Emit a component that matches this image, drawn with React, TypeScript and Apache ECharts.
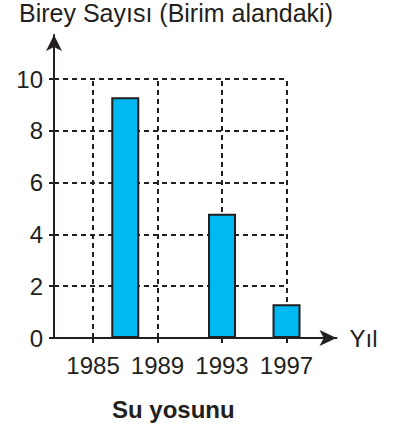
import React, { useEffect, useRef } from "react";
import * as echarts from "echarts";

const years = [1987, 1993, 1997];
const counts = [9.3, 4.8, 1.3];
const xTicks = [1985, 1989, 1993, 1997];
const yTicks = [0, 2, 4, 6, 8, 10];
const gridYs = [2, 4, 6, 8, 10];
const yTitle = "Birey Sayısı (Birim alandaki)";
const xTitle = "Yıl";
const caption = "Su yosunu";

const X_MIN = 1982.58;
const X_MAX = 2000.1;
const Y_MAX = 11.7;
const INK = "#231f20";
const FONT = "'Liberation Sans', Arial, sans-serif";

export default function App() {
  const ref = useRef<HTMLDivElement>(null);
  useEffect(() => {
    if (!ref.current) return;
    const chart = echarts.init(ref.current, null, { renderer: "svg" });
    const dash = { type: [5, 4] as any, width: 2, color: INK };
    const lines: any[] = [];
    gridYs.forEach((y) => {
      lines.push([{ coord: [X_MIN, y] }, { coord: [xTicks[xTicks.length - 1], y] }]);
    });
    xTicks.forEach((x) => {
      lines.push([{ coord: [x, 0] }, { coord: [x, gridYs[gridYs.length - 1]] }]);
    });
    chart.setOption({
      animation: false,
      grid: { left: 54, right: 406 - 336.5, top: 35, bottom: 430 - 338 },
      xAxis: {
        type: "value",
        min: X_MIN,
        max: X_MAX,
        name: xTitle,
        nameLocation: "end",
        nameGap: 13,
        nameTextStyle: { fontFamily: FONT, fontSize: 24, color: INK, verticalAlign: "middle" },
        splitLine: { show: false },
        axisLine: {
          lineStyle: { color: INK, width: 2 },
          symbol: ["none", "arrow"],
          symbolSize: [12, 17],
        },
        axisTick: { customValues: xTicks, length: 5, lineStyle: { color: INK, width: 2 } },
        axisLabel: {
          customValues: xTicks,
          fontFamily: FONT,
          fontSize: 24,
          color: INK,
          margin: 15,
          formatter: (v: number) => String(v),
        },
      },
      yAxis: {
        type: "value",
        min: 0,
        max: Y_MAX,
        splitLine: { show: false },
        axisLine: {
          show: true,
          lineStyle: { color: INK, width: 2 },
          symbol: ["none", "arrow"],
          symbolSize: [12, 16],
        },
        axisTick: { show: true, customValues: yTicks, length: 5, lineStyle: { color: INK, width: 2 } },
        axisLabel: {
          customValues: yTicks,
          fontFamily: FONT,
          fontSize: 24,
          color: INK,
          margin: 11,
        },
      },
      graphic: [
        {
          type: "text",
          left: 19,
          top: 0,
          style: { text: yTitle, fontFamily: FONT, fontSize: 25, fill: INK },
        },
        {
          type: "text",
          left: 112,
          top: 397,
          style: { text: caption, fontFamily: FONT, fontSize: 24, fontWeight: "bold", fill: INK },
        },
      ],
      series: [
        {
          type: "line",
          data: [],
          silent: true,
          markLine: {
            silent: true,
            z: 1,
            symbol: ["none", "none"],
            label: { show: false },
            lineStyle: dash,
            data: lines,
          },
        },
        {
          type: "bar",
          z: 3,
          barWidth: 28,
          data: years.map((y, i) => [y, counts[i]]),
          itemStyle: { color: "#00b9f0", borderColor: INK, borderWidth: 2 },
        },
      ],
    });
    return () => chart.dispose();
  }, []);
  return <div ref={ref} style={{ width: 406, height: 430, position: "absolute", left: 0, top: 0 }} />;
}
